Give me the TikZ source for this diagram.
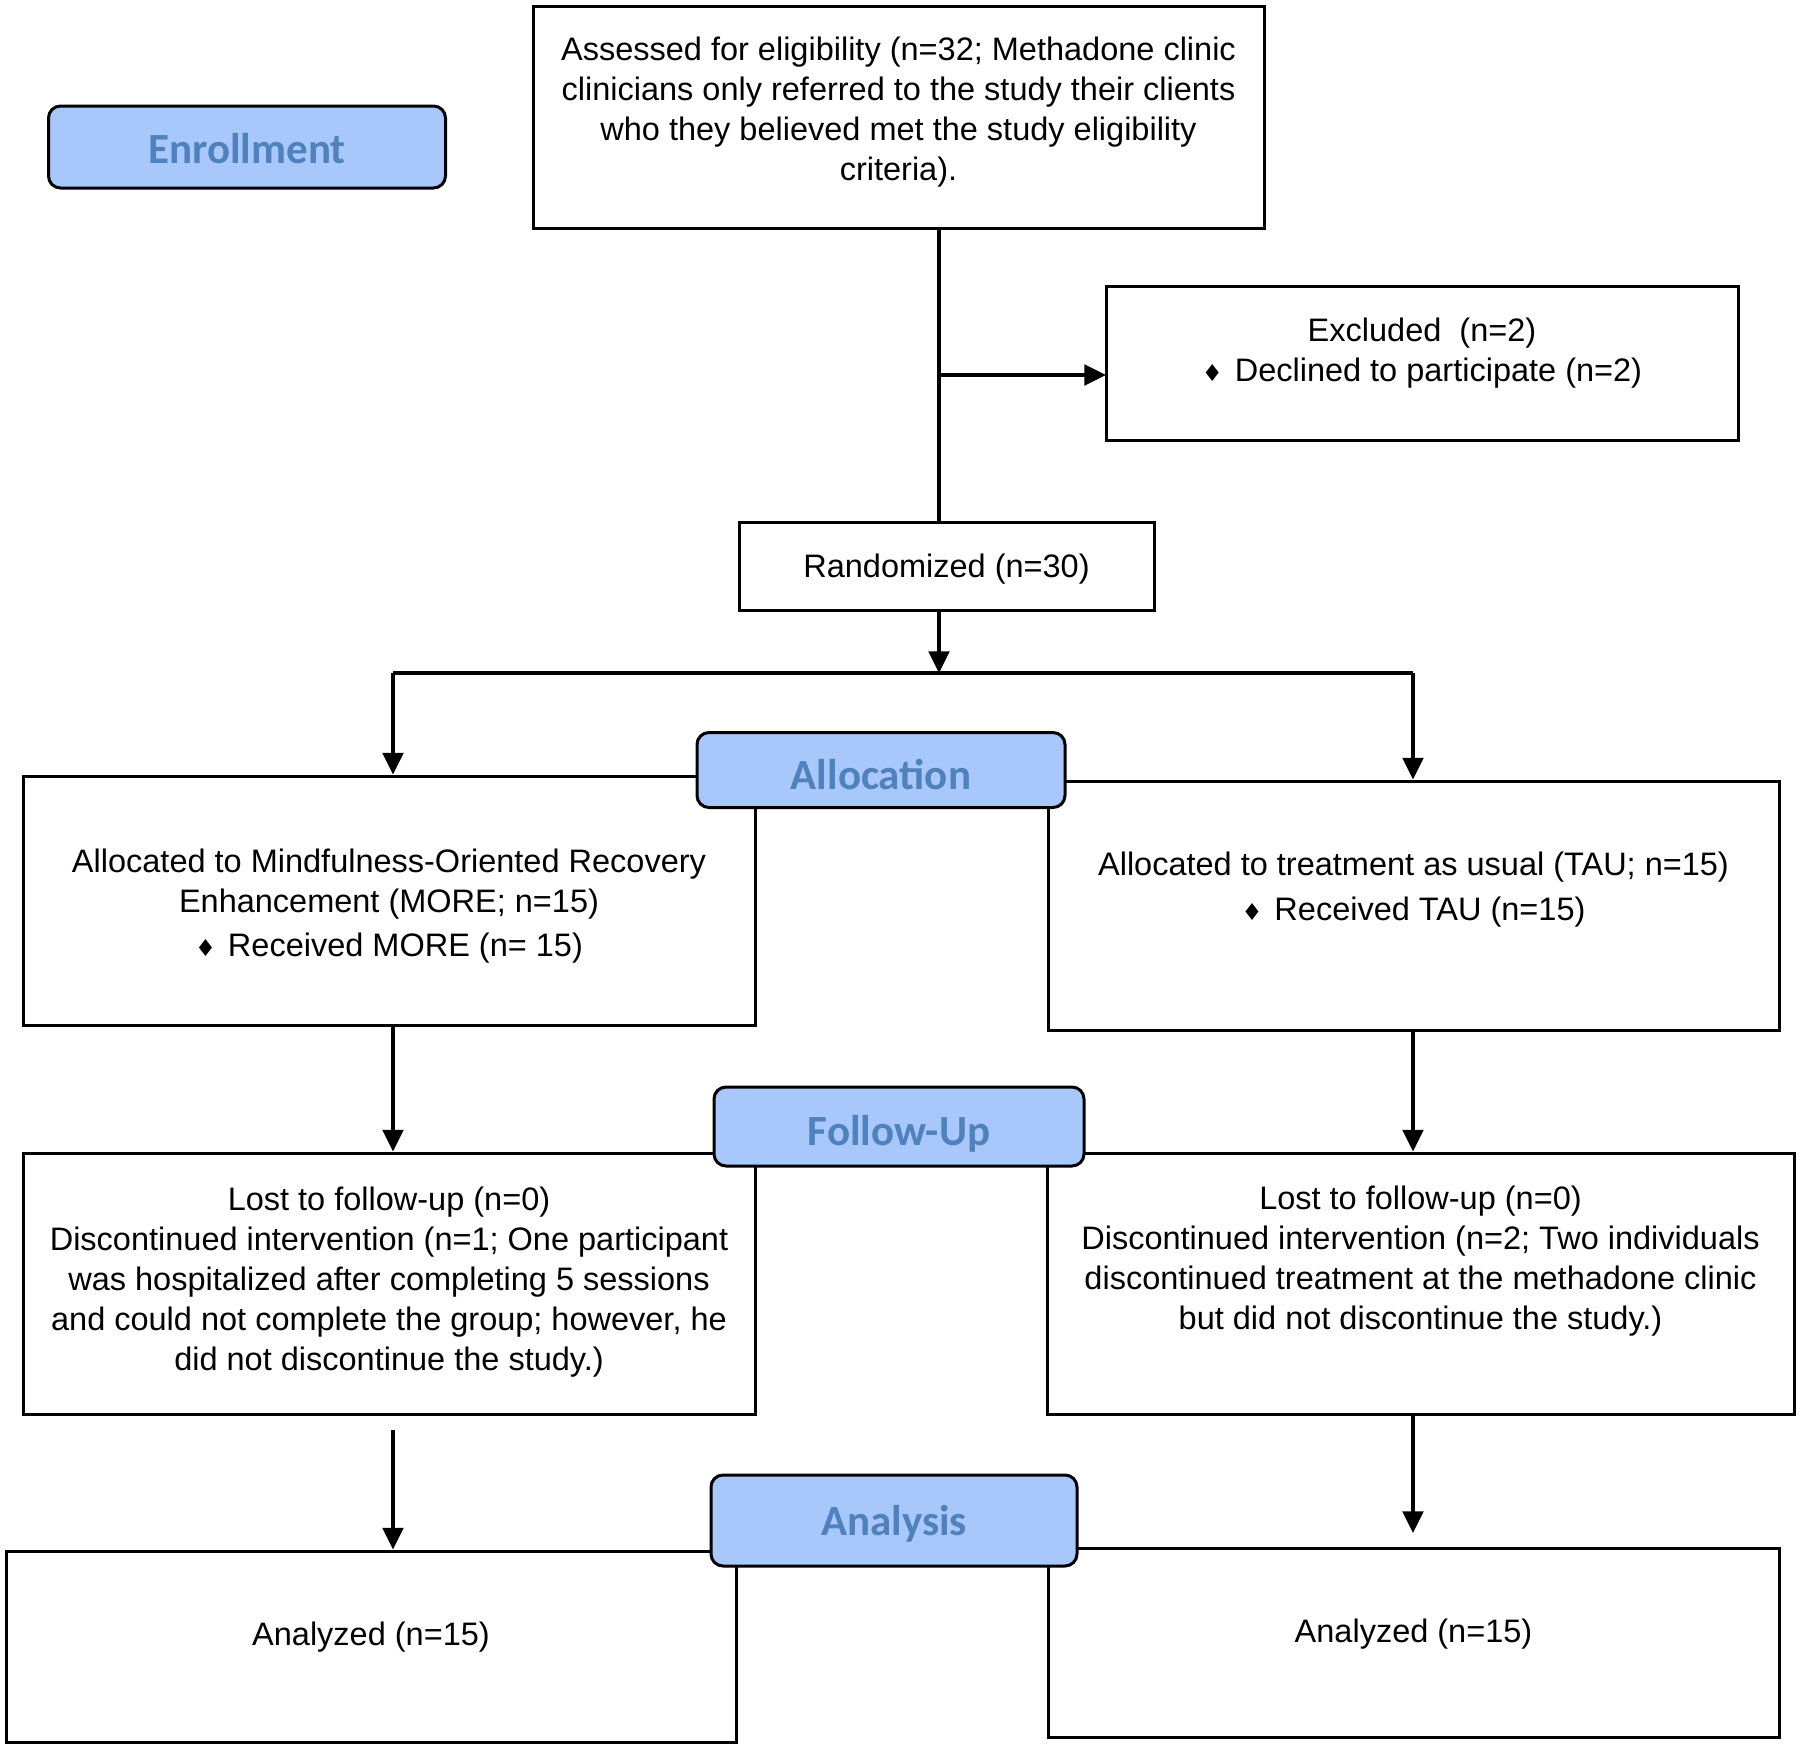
\documentclass[tikz,border=0pt]{standalone}
\usepackage{fontspec}
\setmainfont{Liberation Sans}
\newfontfamily\tagfont{Carlito}
\newfontfamily\symfont{DejaVu Sans}
\usetikzlibrary{arrows.meta,positioning}

\definecolor{tagfill}{HTML}{A8C7FA}
\definecolor{tagtext}{HTML}{4F81BD}
\newcommand{\dia}{{\symfont\fontsize{7}{7}\selectfont ♦}\hspace{3.6pt}}

\tikzset{
  box/.style={draw,line width=0.9pt,fill=white,inner sep=0pt},
  tag/.style={draw,line width=0.9pt,fill=tagfill,rounded corners=3.6pt,inner sep=0pt,
    text depth=0pt,text=tagtext,font=\tagfont\bfseries\fontsize{12.9}{14}\selectfont},
  txt/.style={align=center,inner sep=0pt,font=\fontsize{9.75}{12}\selectfont},
  arr/.style={-{Triangle[length=6.5pt,width=6.2pt]},line width=1pt},
  ln/.style={line width=1pt}
}

\begin{document}
\begin{tikzpicture}[x=0.3pt,y=-0.3pt]
\fill[white] (0,0) rectangle (1800,1747);
\useasboundingbox (0,0) rectangle (1800,1747);

% boxes
\node[box,minimum width=219.3pt,minimum height=66.6pt,
  label={[txt,yshift=1.4pt]center:{Assessed for eligibility (n=32; Methadone clinic\\clinicians only referred to the study their clients\\who they believed met the study eligibility\\criteria).}}] (top) at (898.5,117) {};
\node[box,minimum width=189.6pt,minimum height=46.2pt,
  label={[txt,yshift=3pt]center:{Excluded~~(n=2)\\\dia Declined to participate (n=2)}}] (excl) at (1422,363) {};
\node[box,minimum width=124.5pt,minimum height=26.4pt,
  label={[txt,yshift=-1pt]center:{Randomized (n=30)}}] (rand) at (946.5,566) {};

\node[box,minimum width=219.6pt,minimum height=74.7pt,
  label={[txt,yshift=-1.7pt]center:{Allocated to Mindfulness-Oriented Recovery\\Enhancement (MORE; n=15)\\[1.4pt]\dia Received MORE (n= 15)}}] (more) at (389,900.5) {};
\node[box,minimum width=219.3pt,minimum height=74.7pt,
  label={[txt,yshift=4.8pt]center:{Allocated to treatment as usual (TAU; n=15)\\[1.4pt]\dia Received TAU (n=15)}}] (tau) at (1413.5,905.5) {};

\node[box,minimum width=219.6pt,minimum height=78.3pt,
  label={[txt,yshift=0.4pt]center:{Lost to follow-up (n=0)\\Discontinued intervention (n=1; One participant\\was hospitalized after completing 5 sessions\\and could not complete the group; however, he\\did not discontinue the study.)}}] (folL) at (389,1283.5) {};
\node[box,minimum width=224.1pt,minimum height=78.3pt,
  label={[txt,yshift=6.8pt]center:{Lost to follow-up (n=0)\\Discontinued intervention (n=2; Two individuals\\discontinued treatment at the methadone clinic\\but did not discontinue the study.)}}] (folR) at (1420.5,1283.5) {};

\node[box,minimum width=219pt,minimum height=57.3pt,
  label={[txt,yshift=2.8pt]center:{Analyzed (n=15)}}] (anaL) at (371,1646.5) {};
\node[box,minimum width=219.3pt,minimum height=56.7pt,
  label={[txt,yshift=2.5pt]center:{Analyzed (n=15)}}] (anaR) at (1413.5,1642.5) {};

% stage tags
\node[tag,text height=9.7pt,minimum width=119.1pt,minimum height=24.6pt] (enrol) at (247,147) {Enrollment};
\node[tag,text height=11.9pt,minimum width=110.4pt,minimum height=22.5pt] (alloc) at (881,770) {Allocation};
\node[tag,text height=11.5pt,minimum width=111pt,minimum height=23.7pt] (follow) at (899,1126.5) {Follow-Up};
\node[tag,text height=8.7pt,minimum width=109.8pt,minimum height=27.3pt] (anal) at (894,1520.5) {Analysis};

% connectors
\coordinate (trunk) at (939,0);
\coordinate (exclIn) at (1106,375);
\coordinate (split) at (0,673);
\coordinate (colL) at (393,0);
\coordinate (colR) at (1413,0);
\coordinate (gapL) at (393,1430);
\coordinate (gapR) at (1413,1533);

\draw[ln] (trunk |- top.south) -- (trunk |- rand.north);
\draw[arr] (trunk |- exclIn) -- (exclIn);
\draw[arr] (trunk |- rand.south) -- (trunk |- split);
\draw[ln] (colL |- split) -- (colR |- split);
\draw[arr] (colL |- split) -- (colL |- more.north);
\draw[arr] (colR |- split) -- (colR |- tau.north);
\draw[arr] (colL |- more.south) -- (colL |- folL.north);
\draw[arr] (colR |- tau.south) -- (colR |- folR.north);
\draw[arr] (gapL) -- (colL |- anaL.north);
\draw[arr] (colR |- folR.south) -- (gapR);
\end{tikzpicture}
\end{document}
